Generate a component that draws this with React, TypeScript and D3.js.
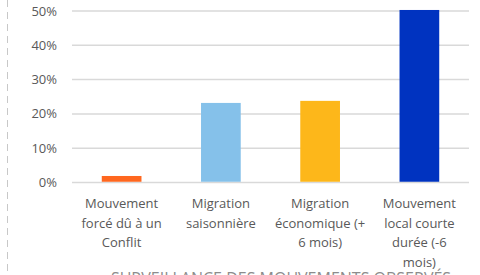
import React, { useEffect, useRef } from "react";
import * as d3 from "d3";

const categories = [
  ["Mouvement", "forcé dû à un", "Conflit"],
  ["Migration", "saisonnière"],
  ["Migration", "économique (+", "6 mois)"],
  ["Mouvement", "local courte", "durée (-6", "mois)"],
];
const values = [0.019, 0.232, 0.238, 0.503];
const colors = ["#FF671F", "#85C1EA", "#FDB71A", "#0033C0"];
const ticks = [0, 0.1, 0.2, 0.3, 0.4, 0.5];
const footer = "SURVEILLANCE DES MOUVEMENTS OBSERVÉS";

function App() {
  const ref = useRef<SVGSVGElement>(null);

  useEffect(() => {
    const svg = d3.select(ref.current);
    svg.selectAll("*").remove();

    const font = "'Open Sans', sans-serif";
    const x = d3
      .scaleBand<number>()
      .domain(d3.range(categories.length))
      .range([72, 469])
      .paddingInner(0.6)
      .paddingOuter(0.3);
    const y = d3.scaleLinear().domain([0, 0.5]).range([182.5, 11]);

    // dashed frame edge on the left
    svg
      .append("line")
      .attr("x1", 7.5)
      .attr("x2", 7.5)
      .attr("y1", 0)
      .attr("y2", 275)
      .attr("stroke", "#c8c8c8")
      .attr("stroke-width", 1)
      .attr("stroke-dasharray", "7,5");

    // gridlines + tick labels
    svg
      .selectAll(".grid")
      .data(ticks)
      .enter()
      .append("line")
      .attr("x1", 72)
      .attr("x2", 469)
      .attr("y1", (d) => y(d))
      .attr("y2", (d) => y(d))
      .attr("stroke", "#d9d9d9")
      .attr("stroke-width", 1.5);

    svg
      .selectAll(".tick")
      .data(ticks)
      .enter()
      .append("text")
      .attr("x", 57)
      .attr("y", (d) => y(d))
      .attr("dy", "0.35em")
      .attr("text-anchor", "end")
      .style("font-family", font)
      .style("font-size", "13px")
      .style("fill", "#595959")
      .text((d) => d3.format(".0%")(d));

    // bars
    svg
      .selectAll(".bar")
      .data(values)
      .enter()
      .append("rect")
      .attr("x", (d, i) => x(i)!)
      .attr("width", x.bandwidth())
      .attr("y", (d) => y(d))
      .attr("height", (d) => y(0) - y(d) - 0.75)
      .attr("fill", (d, i) => colors[i]);

    // category labels
    categories.forEach((lines, i) => {
      const t = svg
        .append("text")
        .attr("text-anchor", "middle")
        .style("font-family", font)
        .style("font-size", "13px")
        .style("fill", "#595959");
      lines.forEach((line, j) => {
        t.append("tspan")
          .attr("x", x(i)! + x.bandwidth() / 2)
          .attr("y", 208 + j * 19.5)
          .text(line);
      });
    });

    // footer title, cut off by the bottom edge as in the source
    svg
      .append("text")
      .attr("x", 281)
      .attr("y", 284)
      .attr("text-anchor", "middle")
      .style("font-family", font)
      .style("font-size", "16px")
      .style("fill", "#8c8c8c")
      .text(footer);
  }, []);

  return (
    <svg
      ref={ref}
      width={480}
      height={275}
      style={{ position: "absolute", left: 0, top: 0, background: "#fff" }}
    />
  );
}

export default App;
